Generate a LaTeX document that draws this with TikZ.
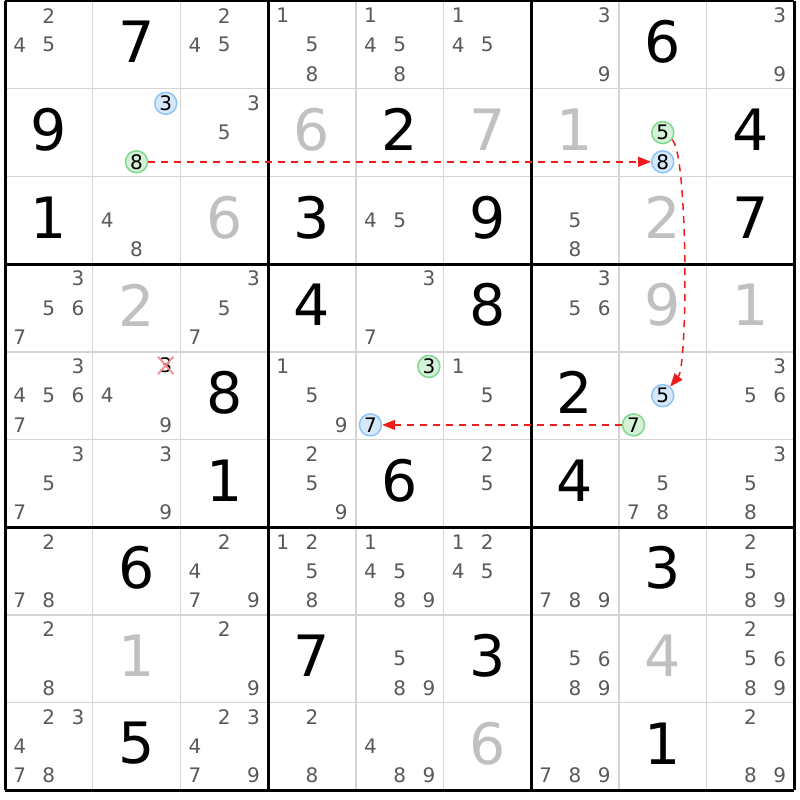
\documentclass[tikz,border=0pt]{standalone}
\usepackage{fontspec}
\setmainfont{DejaVu Sans}
\usetikzlibrary{arrows.meta}
\definecolor{pencil}{HTML}{595959}
\definecolor{placed}{HTML}{C0C0C0}
\definecolor{thinline}{HTML}{D4D4D4}
\definecolor{ringblue}{HTML}{8EC3F5}
\definecolor{fillblue}{HTML}{D6E8FA}
\definecolor{ringgreen}{HTML}{7FD88E}
\definecolor{fillgreen}{HTML}{D5F2D8}
\definecolor{chainred}{HTML}{F01C1C}
\definecolor{strikered}{HTML}{F28C8C}
\begin{document}
\begin{tikzpicture}[
    x=1pt, y=-1pt,
    cand/.style={text=pencil, font=\fontsize{20}{20}\selectfont, inner sep=0pt},
    given/.style={font=\fontsize{57}{57}\selectfont, inner sep=0pt, yshift=3pt},
    solved/.style={given, text=placed},
    ring/.style={circle, line width=1.5pt, minimum size=22pt, inner sep=0pt, font=\fontsize{20}{20}\selectfont},
    link/.style={draw=chainred, line width=1.5pt, dash pattern=on 7pt off 6pt, -{Triangle[length=13pt,width=10pt]}},
    strike/.style={draw=strikered, line width=1.8pt}
    ]
    \useasboundingbox (0,0) rectangle (800,800);
    % grade fina
    \foreach \i in {1,2,4,5,7,8} {
      \draw[thinline, line width=1.5pt] (5+\i*87.7,1) -- (5+\i*87.7,790.3);
      \draw[thinline, line width=1.5pt] (5,1+\i*87.7) -- (794.3,1+\i*87.7);
    }
    % blocos 3x3
    \foreach \i in {0,3,6,9} {
      \draw[line width=3pt] (5+\i*87.7,1) -- (5+\i*87.7,790.3);
      \draw[line width=3pt] (5,1+\i*87.7) -- (794.3,1+\i*87.7);
    }
    % numeros dados
    \foreach \r/\c/\v in {1/2/7, 1/8/6, 2/1/9, 2/5/2, 2/9/4, 3/1/1, 3/4/3, 3/6/9, 3/9/7,
        4/4/4, 4/6/8, 5/3/8, 5/7/2, 6/3/1, 6/5/6, 6/7/4, 7/2/6, 7/8/3, 8/4/7, 8/6/3, 9/2/5, 9/8/1}
      \node[given] (fix-\r-\c) at (5+\c*87.7-43.85, 1+\r*87.7-43.85) {\v};
    % numeros resolvidos
    \foreach \r/\c/\v in {2/4/6, 2/6/7, 2/7/1, 3/3/6, 3/8/2, 4/2/2, 4/8/9, 4/9/1, 8/2/1, 8/8/4, 9/6/6}
      \node[solved] (sol-\r-\c) at (5+\c*87.7-43.85, 1+\r*87.7-43.85) {\v};
    % candidatos
    \foreach \r/\c/\ds in {1/1/{2,4,5}, 1/3/{2,4,5}, 1/4/{1,5,8}, 1/5/{1,4,5,8}, 1/6/{1,4,5}, 1/7/{3,9}, 1/9/{3,9},
        2/3/{3,5}, 3/2/{4,8}, 3/5/{4,5}, 3/7/{5,8},
        4/1/{3,5,6,7}, 4/3/{3,5,7}, 4/5/{3,7}, 4/7/{3,5,6},
        5/1/{3,4,5,6,7}, 5/2/{4,9}, 5/4/{1,5,9}, 5/6/{1,5}, 5/9/{3,5,6},
        6/1/{3,5,7}, 6/2/{3,9}, 6/4/{2,5,9}, 6/6/{2,5}, 6/8/{5,7,8}, 6/9/{3,5,8},
        7/1/{2,7,8}, 7/3/{2,4,7,9}, 7/4/{1,2,5,8}, 7/5/{1,4,5,8,9}, 7/6/{1,2,4,5}, 7/7/{7,8,9}, 7/9/{2,5,8,9},
        8/1/{2,8}, 8/3/{2,9}, 8/5/{5,8,9}, 8/7/{5,6,8,9}, 8/9/{2,5,6,8,9},
        9/1/{2,3,4,7,8}, 9/3/{2,3,4,7,9}, 9/4/{2,8}, 9/5/{4,8,9}, 9/7/{7,8,9}, 9/9/{2,8,9}} {
      \foreach \d in \ds {
        \pgfmathsetmacro\px{5+(\c-1)*87.7+(mod(\d-1,3)+0.5)*29.233}
        \pgfmathsetmacro\py{1+(\r-1)*87.7+(floor((\d-1)/3)+0.5)*29.233}
        \node[cand] (p-\r-\c-\d) at (\px,\py) {\d};
      }
    }
    % candidatos marcados
    \foreach \r/\c/\d/\rc/\fc/\n in {2/2/3/ringblue/fillblue/b3, 2/2/8/ringgreen/fillgreen/g8,
        2/8/5/ringgreen/fillgreen/g5, 2/8/8/ringblue/fillblue/b8,
        5/5/3/ringgreen/fillgreen/g3, 5/5/7/ringblue/fillblue/b7,
        5/8/5/ringblue/fillblue/b5, 5/8/7/ringgreen/fillgreen/g7} {
      \pgfmathsetmacro\px{5+(\c-1)*87.7+(mod(\d-1,3)+0.5)*29.233}
      \pgfmathsetmacro\py{1+(\r-1)*87.7+(floor((\d-1)/3)+0.5)*29.233}
      \node[ring, draw=\rc, fill=\fc] (\n) at (\px,\py) {\d};
    }
    % candidato eliminado
    \node[cand, text=black, minimum width=15pt, minimum height=17pt] (x3) at (165.7,365.4) {3};
    \draw[strike] (x3.north west) -- (x3.south east) (x3.north east) -- (x3.south west);
    % cadeia
    \draw[link] (g8) -- (b8);
    \draw[link] (g5) .. controls (688,152) and (688,365) .. (b5);
    \draw[link] (g7) -- (b7);
\end{tikzpicture}
\end{document}
